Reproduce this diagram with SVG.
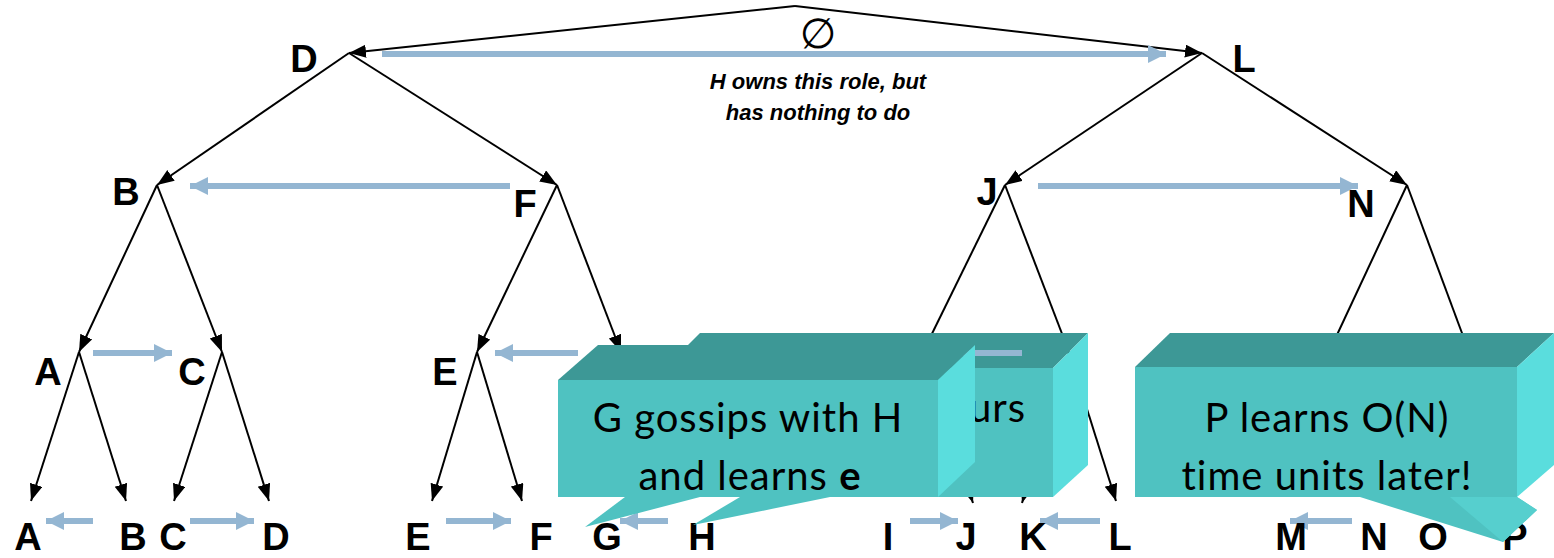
<svg xmlns="http://www.w3.org/2000/svg" width="1554" height="558" viewBox="0 0 1554 558">
<style>
.t{stroke:#000;stroke-width:2;fill:none;marker-end:url(#bh)}
.tn{stroke:#000;stroke-width:2;fill:none}
.g{stroke:#94B6D2;stroke-width:6;fill:none;marker-end:url(#gh)}
.lb{font-family:"Liberation Sans",Arial,sans-serif;font-weight:bold;font-size:38px;fill:#000;text-anchor:middle}
.ct{font-family:Lato,"Open Sans",sans-serif;font-size:40px;letter-spacing:1px;fill:#000;text-anchor:middle}
.note{font-family:"Liberation Sans",Arial,sans-serif;font-weight:bold;font-style:italic;font-size:22px;fill:#000;text-anchor:middle}
.ff{fill:#4FC2C1}
.tf{fill:#3D9896}
.sf{fill:#5ADDDD}
</style>
<defs>
<marker id="bh" markerUnits="userSpaceOnUse" markerWidth="18" markerHeight="14" refX="17" refY="6.5" orient="auto">
<path d="M0,0 L17,6.5 L0,13 z" fill="#000"/>
</marker>
<marker id="gh" markerUnits="userSpaceOnUse" markerWidth="20" markerHeight="20" refX="18" refY="9" orient="auto">
<path d="M0,0 L18,9 L0,18 z" fill="#94B6D2"/>
</marker>
</defs>
<g id="connectors">
<line class="t" x1="795" y1="6" x2="349" y2="53"/>
<line class="t" x1="795" y1="6" x2="1202" y2="53"/>
<line class="t" x1="349" y1="53" x2="157" y2="185"/>
<line class="t" x1="349" y1="53" x2="557" y2="185"/>
<line class="t" x1="1202" y1="53" x2="1005" y2="185"/>
<line class="t" x1="1202" y1="53" x2="1407" y2="185"/>
<line class="t" x1="157" y1="185" x2="79" y2="352"/>
<line class="t" x1="157" y1="185" x2="222" y2="352"/>
<line class="t" x1="557" y1="185" x2="477" y2="352"/>
<line class="t" x1="557" y1="185" x2="621" y2="352"/>
<line class="t" x1="1005" y1="185" x2="923" y2="352"/>
<line class="t" x1="1005" y1="185" x2="1069" y2="352"/>
<line class="t" x1="1407" y1="185" x2="1329" y2="352"/>
<line class="t" x1="1407" y1="185" x2="1469" y2="352"/>
<line class="t" x1="79" y1="352" x2="31" y2="501"/>
<line class="t" x1="79" y1="352" x2="126" y2="501"/>
<line class="t" x1="222" y1="352" x2="174" y2="501"/>
<line class="t" x1="222" y1="352" x2="269" y2="501"/>
<line class="t" x1="477" y1="352" x2="432" y2="501"/>
<line class="t" x1="477" y1="352" x2="522" y2="501"/>
<line class="t" x1="621" y1="352" x2="605" y2="492"/>
<line class="t" x1="621" y1="352" x2="690" y2="492"/>
<line class="t" x1="923" y1="352" x2="890" y2="492"/>
<line class="t" x1="923" y1="352" x2="973" y2="503"/>
<line class="t" x1="1069" y1="352" x2="1022" y2="503"/>
<line class="t" x1="1069" y1="352" x2="1116" y2="501"/>
<line class="t" x1="1329" y1="352" x2="1292" y2="492"/>
<line class="t" x1="1329" y1="352" x2="1372" y2="492"/>
<line class="t" x1="1469" y1="352" x2="1432" y2="492"/>
<line class="t" x1="1469" y1="352" x2="1512" y2="492"/>
<line class="g" x1="382" y1="54" x2="1166" y2="54"/>
<line class="g" x1="510" y1="186" x2="190" y2="186"/>
<line class="g" x1="1038" y1="186" x2="1358" y2="186"/>
<line class="g" x1="93" y1="353" x2="172" y2="353"/>
<line class="g" x1="578" y1="353" x2="495" y2="353"/>
<line class="g" x1="93" y1="521" x2="46" y2="521"/>
<line class="g" x1="190" y1="521" x2="254" y2="521"/>
<line class="g" x1="446" y1="521" x2="511" y2="521"/>
<line class="g" x1="668" y1="521" x2="620" y2="521"/>
<line class="g" x1="910" y1="521" x2="958" y2="521"/>
<line class="g" x1="1100" y1="521" x2="1040" y2="521"/>
<line class="g" x1="1352" y1="521" x2="1290" y2="521"/>
</g>
<g id="root">
<text x="818" y="48" font-family="DejaVu Sans,sans-serif" font-size="42" text-anchor="middle">∅</text>
<text class="note" x="818" y="89">H owns this role, but</text>
<text class="note" x="818" y="120">has nothing to do</text>
</g>
<g id="node-D"><text class="lb" x="304" y="72">D</text></g>
<g id="node-L"><text class="lb" x="1244" y="72">L</text></g>
<g id="node-B"><text class="lb" x="126" y="205">B</text></g>
<g id="node-F"><text class="lb" x="525" y="217">F</text></g>
<g id="node-J"><text class="lb" x="987" y="205">J</text></g>
<g id="node-N"><text class="lb" x="1361" y="217">N</text></g>
<g id="node-A2"><text class="lb" x="48" y="385">A</text></g>
<g id="node-C2"><text class="lb" x="192" y="385">C</text></g>
<g id="node-E2"><text class="lb" x="445" y="385">E</text></g>
<g id="leaves">
<text class="lb" x="28" y="550">A</text>
<text class="lb" x="133" y="550">B</text>
<text class="lb" x="173" y="550">C</text>
<text class="lb" x="276" y="550">D</text>
<text class="lb" x="418" y="550">E</text>
<text class="lb" x="541" y="550">F</text>
<text class="lb" x="607" y="550">G</text>
<text class="lb" x="702" y="550">H</text>
<text class="lb" x="888" y="550">I</text>
<text class="lb" x="966" y="550">J</text>
<text class="lb" x="1033" y="550">K</text>
<text class="lb" x="1120" y="550">L</text>
<text class="lb" x="1291" y="550">M</text>
<text class="lb" x="1374" y="550">N</text>
<text class="lb" x="1433" y="550">O</text>
<text class="lb" x="1515" y="550">P</text>
</g>
<g id="callout-back">
<polygon class="ff" points="740,497 693,525 830,497"/>
<polygon class="tf" points="665,368 700,333 1088,333 1053,368"/>
<rect class="ff" x="665" y="368" width="388" height="129"/>
<polygon class="sf" points="1053,368 1088,333 1088,465 1053,497"/>
<text class="ct" x="1026" y="422" style="text-anchor:end">urs</text>
</g>
<line x1="940" y1="353" x2="1022" y2="353" style="stroke:#94B6D2;stroke-width:6"/>
<g id="callout-front">
<polygon class="ff" points="625,497 585,527 700,497"/>
<polygon class="tf" points="558,380 598,345 975,345 938,380"/>
<rect class="ff" x="558" y="380" width="380" height="117"/>
<polygon class="sf" points="938,380 975,345 975,462 938,497"/>
<text class="ct" x="748" y="432">G gossips with H</text>
<text class="ct" x="750" y="490">and learns <tspan font-weight="bold">e</tspan></text>
</g>
<g id="callout-right">
<polygon class="ff" points="1360,497 1503,542 1537,510 1517,497"/>
<polygon fill="#56CFCE" points="1450,497 1503,542 1537,510 1517,497"/>
<polygon class="tf" points="1135,367 1170,333 1554,333 1517,367"/>
<rect class="ff" x="1135" y="367" width="382" height="130"/>
<polygon class="sf" points="1517,367 1554,333 1554,465 1517,497"/>
<text class="ct" x="1327" y="432">P learns O(N)</text>
<text class="ct" x="1327" y="490">time units later!</text>
</g>
</svg>
